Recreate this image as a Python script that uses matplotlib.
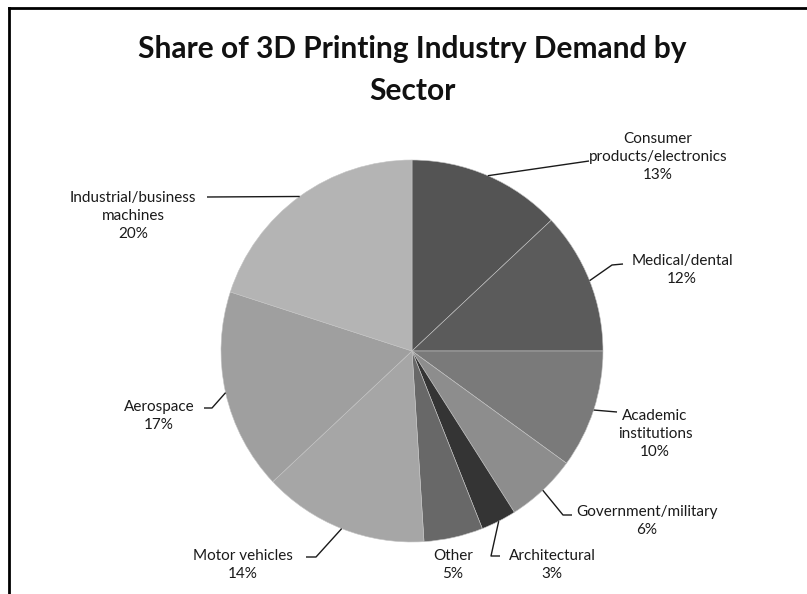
import numpy as np
import matplotlib
matplotlib.use("Agg")
import matplotlib.pyplot as plt
from matplotlib.lines import Line2D

# ---- data ----
sectors = ["Consumer\nproducts/electronics", "Medical/dental", "Academic\ninstitutions",
           "Government/military", "Architectural", "Other", "Motor vehicles",
           "Aerospace", "Industrial/business\nmachines"]
shares = [13, 12, 10, 6, 3, 5, 14, 17, 20]
colors = ["#545454", "#5b5b5b", "#7a7a7a", "#8d8d8d", "#343434", "#686868",
          "#a6a6a6", "#9f9f9f", "#b4b4b4"]
title = "Share of 3D Printing Industry Demand by\nSector"

# ---- layout (pixel coordinates, y from top) ----
W, H = 807, 594
label_pos = [(658, 157), (682, 270), (655, 434), (647, 521), (552, 565),
             (453, 565), (243, 565), (159, 416), (133, 216)]
leader_pts = [[(589, 161)],
              [(612, 265), (623, 264)],
              [(617, 412)],
              [(563, 515), (572, 515)],
              [(491, 556), (500, 556)],
              [],
              [(316, 557), (306, 557)],
              [(212, 408), (204, 408)],
              [(207, 197)]]

def Y(py):
    return H - py

fig = plt.figure(figsize=(W / 100, H / 100), dpi=100)
ax = fig.add_axes([0, 0, 1, 1])

cx, cy, r = 412, Y(351), 191
wedges, _ = ax.pie(shares, colors=colors, startangle=90, counterclock=False,
                   center=(cx, cy), radius=r, frame=True,
                   wedgeprops=dict(linewidth=0.4, edgecolor="#c4c4c4"))
ax.set_xlim(0, W)
ax.set_ylim(0, H)
ax.set_aspect("equal")
ax.axis("off")

font = ["Lato", "DejaVu Sans"]
txtc = "#1a1a1a"
for w, lab, val, (lx, ly), pts in zip(wedges, sectors, shares, label_pos, leader_pts):
    ax.text(lx, Y(ly), f"{lab}\n{val}%", ha="center", va="center",
            multialignment="center", fontsize=11, family=font, color=txtc,
            linespacing=1.4)
    if pts:
        ang = np.deg2rad((w.theta1 + w.theta2) / 2)
        x0 = w.center[0] + w.r * np.cos(ang)
        y0 = w.center[1] + w.r * np.sin(ang)
        xs = [x0] + [p[0] for p in pts]
        ys = [y0] + [Y(p[1]) for p in pts]
        ax.plot(xs, ys, color="#1a1a1a", lw=1.0, solid_capstyle="butt")

ax.text(412, Y(70), title, ha="center", va="center", fontsize=21.5,
        fontweight="bold", family=font, color="#111111", linespacing=1.6)

# frame lines (top and left)
ax.add_line(Line2D([9, W], [Y(8), Y(8)], color="black", lw=2))
ax.add_line(Line2D([9, 9], [Y(8), 0], color="black", lw=2))

fig.savefig("out.png", dpi=100, facecolor="white")
